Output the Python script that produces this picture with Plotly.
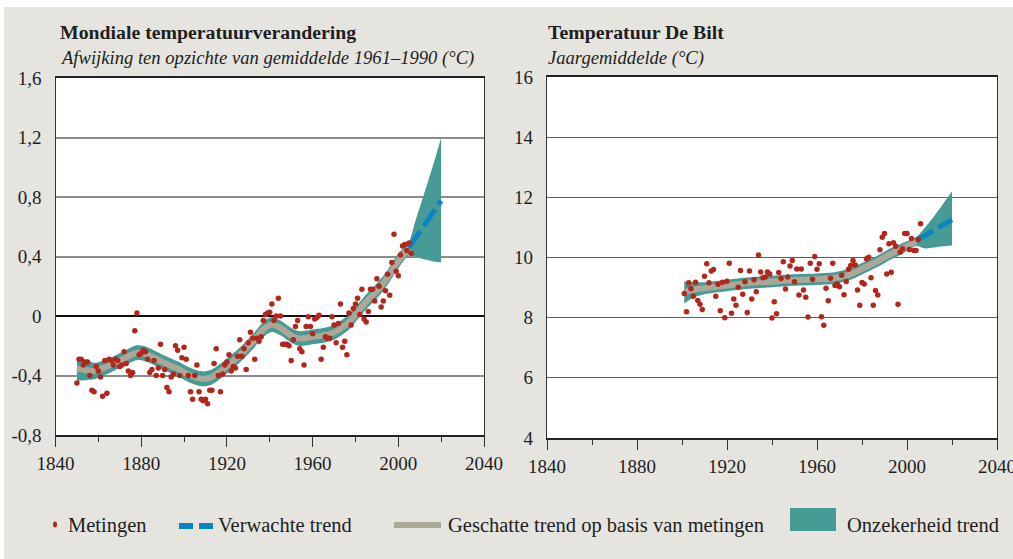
import plotly.graph_objects as go

# ---------------- DATA ----------------
# Global temperature anomaly (deg C, relative to 1961-1990), yearly measurements 1850-2006
global_years = list(range(1850, 2007))
global_values = [
    -0.45, -0.29, -0.29, -0.33, -0.31, -0.31, -0.40, -0.50, -0.51, -0.34,   # 1850-1859
    -0.37, -0.41, -0.54, -0.30, -0.52, -0.29, -0.30, -0.33, -0.29, -0.30,   # 1860-1869
    -0.34, -0.33, -0.24, -0.32, -0.37, -0.40, -0.38, -0.10, 0.02, -0.26,    # 1870-1879
    -0.25, -0.23, -0.24, -0.29, -0.38, -0.36, -0.30, -0.40, -0.35, -0.19,   # 1880-1889
    -0.40, -0.36, -0.48, -0.51, -0.41, -0.39, -0.20, -0.23, -0.40, -0.28,   # 1890-1899
    -0.21, -0.29, -0.40, -0.51, -0.56, -0.40, -0.33, -0.51, -0.56, -0.57,   # 1900-1909
    -0.56, -0.59, -0.50, -0.50, -0.32, -0.22, -0.40, -0.51, -0.39, -0.33,   # 1910-1919
    -0.31, -0.26, -0.37, -0.34, -0.35, -0.27, -0.16, -0.27, -0.22, -0.36,   # 1920-1929
    -0.18, -0.11, -0.15, -0.29, -0.15, -0.17, -0.14, -0.03, 0.01, 0.02,     # 1930-1939
    0.025, 0.08, -0.03, 0.00, 0.12, 0.00, -0.19, -0.19, -0.19, -0.20,       # 1940-1949
    -0.30, -0.16, -0.07, -0.03, -0.22, -0.24, -0.33, -0.07, -0.005, -0.07,  # 1950-1959
    -0.12, -0.02, -0.01, 0.005, -0.29, -0.21, -0.14, -0.15, -0.15, -0.005,  # 1960-1969
    -0.06, -0.18, -0.05, 0.08, -0.21, -0.17, -0.26, 0.02, -0.06, 0.05,      # 1970-1979
    0.08, 0.12, 0.01, 0.18, -0.02, -0.04, 0.03, 0.18, 0.18, 0.10,           # 1980-1989
    0.25, 0.20, 0.06, 0.10, 0.17, 0.28, 0.14, 0.36, 0.55, 0.30,             # 1990-1999
    0.27, 0.41, 0.47, 0.48, 0.44, 0.49, 0.42,                               # 2000-2006
]

# Global estimated trend (smoothed) and its uncertainty band
global_trend_years = [1850, 1855, 1858, 1865, 1872, 1878, 1882, 1890, 1897, 1903,
                      1909, 1913, 1918, 1925, 1932, 1937, 1941, 1945, 1950, 1954,
                      1960, 1965, 1970, 1977, 1980, 1985, 1990, 1993, 1995, 2000, 2005]
global_trend = [-0.355, -0.365, -0.37, -0.335, -0.285, -0.247, -0.255, -0.31, -0.355, -0.40,
                -0.423, -0.41, -0.36, -0.276, -0.175, -0.09, -0.057, -0.08, -0.13, -0.152,
                -0.14, -0.13, -0.11, -0.04, 0.01, 0.095, 0.17, 0.22, 0.26, 0.37, 0.455]
global_band_years = global_trend_years + [2008, 2011, 2014, 2017, 2020]
global_band_low = [-0.435, -0.43, -0.425, -0.385, -0.335, -0.297, -0.305, -0.36, -0.405, -0.45,
                   -0.473, -0.46, -0.41, -0.326, -0.225, -0.14, -0.107, -0.13, -0.18, -0.202,
                   -0.19, -0.18, -0.16, -0.09, -0.04, 0.045, 0.12, 0.17, 0.21, 0.32, 0.41,
                   0.40, 0.385, 0.375, 0.365, 0.36]
global_band_high = [-0.275, -0.30, -0.315, -0.285, -0.235, -0.197, -0.205, -0.26, -0.305, -0.35,
                    -0.373, -0.36, -0.31, -0.226, -0.125, -0.04, -0.007, -0.03, -0.08, -0.102,
                    -0.09, -0.08, -0.06, 0.01, 0.06, 0.145, 0.22, 0.27, 0.31, 0.42, 0.50,
                    0.64, 0.775, 0.91, 1.05, 1.20]
# Global expected trend (projection)
global_proj_years = [2005, 2010, 2015, 2020]
global_proj = [0.46, 0.565, 0.67, 0.775]

# De Bilt annual mean temperature (deg C), 1901-2006
bilt_years = list(range(1901, 2007))
bilt_values = [
    8.80, 8.20, 9.16, 8.96, 8.71, 9.18, 8.57, 8.45, 8.27,          # 1901-1909
    9.38, 9.79, 9.16, 9.55, 9.60, 8.71, 9.11, 8.23, 9.18, 8.00,    # 1910-1919
    9.21, 9.81, 8.15, 8.62, 8.41, 9.01, 9.57, 8.78, 9.19, 8.17,    # 1920-1929
    9.55, 8.62, 9.26, 8.86, 10.08, 9.52, 9.33, 9.35, 9.52, 9.45,   # 1930-1939
    7.99, 8.53, 8.13, 9.50, 9.30, 9.86, 8.95, 9.35, 9.72, 9.90,    # 1940-1949
    9.19, 9.62, 8.75, 9.62, 8.92, 8.68, 8.02, 9.81, 9.28, 10.03,   # 1950-1959
    9.61, 9.79, 8.03, 7.75, 8.98, 8.56, 9.31, 9.81, 9.07, 9.12,    # 1960-1969
    9.03, 9.41, 8.76, 9.20, 9.61, 9.73, 9.90, 9.75, 8.92, 8.41,    # 1970-1979
    9.17, 9.12, 9.96, 10.01, 9.33, 8.41, 8.90, 8.75, 10.26, 10.67, # 1980-1989
    10.80, 9.45, 10.46, 9.51, 10.49, 10.37, 8.45, 10.18, 10.29, 10.80,  # 1990-1999
    10.80, 10.27, 10.63, 10.23, 10.23, 10.60, 11.12,              # 2000-2006
]
bilt_trend_years = [1901, 1905, 1910, 1920, 1930, 1940, 1952, 1960, 1967, 1975,
                    1982, 1987, 1992, 1998, 2004]
bilt_trend = [8.85, 8.93, 8.98, 9.07, 9.15, 9.20, 9.26, 9.28, 9.31, 9.45,
              9.70, 9.88, 10.09, 10.30, 10.53]
bilt_band_years = bilt_trend_years + [2008, 2012, 2016, 2020]
bilt_band_low = [8.47, 8.66, 8.78, 8.88, 8.96, 9.01, 9.07, 9.09, 9.12, 9.26,
                 9.51, 9.69, 9.90, 10.12, 10.38, 10.30, 10.33, 10.37, 10.40]
bilt_band_high = [9.20, 9.18, 9.18, 9.26, 9.34, 9.39, 9.45, 9.47, 9.50, 9.64,
                  9.89, 10.07, 10.28, 10.48, 10.68, 11.0, 11.37, 11.78, 12.20]
bilt_proj_years = [2004, 2012, 2020]
bilt_proj = [10.55, 10.90, 11.26]

# Axis ticks
x_ticks = [1840, 1880, 1920, 1960, 2000, 2040]
x_ticklabels = ["1840", "1880", "1920", "1960", "2000", "2040"]
left_y_ticks = [-0.8, -0.4, 0, 0.4, 0.8, 1.2, 1.6]
left_y_ticklabels = ["-0,8", "-0,4", "0", "0,4", "0,8", "1,2", "1,6"]
right_y_ticks = [4, 6, 8, 10, 12, 14, 16]
right_y_ticklabels = ["4", "6", "8", "10", "12", "14", "16"]

titles = ["Mondiale temperatuurverandering", "Temperatuur De Bilt"]
subtitles = ["Afwijking ten opzichte van gemiddelde 1961–1990 (°C)", "Jaargemiddelde (°C)"]
legend_labels = ["Metingen", "Verwachte trend", "Geschatte trend op basis van metingen",
                 "Onzekerheid trend"]

# ---------------- STYLE ----------------
W, H = 1013, 559
BG = "#e5e4df"
TEAL = "#479b95"
GREY_LINE = "#aca898"
RED = "#b3261c"
BLUE = "#0b84c6"
FONT = "Liberation Serif"
TXT = "#1e1e1e"


def px(x):
    return x / W


def py(y):
    return 1 - y / H


fig = go.Figure()


def add_panel(xa, ya, band_years, low, high, tr_years, tr, pr_years, pr, yrs, vals):
    fig.add_trace(go.Scatter(x=band_years, y=low, xaxis=xa, yaxis=ya, mode="lines",
                             line=dict(width=0, color=TEAL, shape="spline", smoothing=0.8),
                             hoverinfo="skip", showlegend=False))
    fig.add_trace(go.Scatter(x=band_years, y=high, xaxis=xa, yaxis=ya, mode="lines",
                             line=dict(width=0, color=TEAL, shape="spline", smoothing=0.8),
                             fill="tonexty", fillcolor=TEAL,
                             hoverinfo="skip", showlegend=False))
    fig.add_trace(go.Scatter(x=tr_years, y=tr, xaxis=xa, yaxis=ya, mode="lines",
                             line=dict(width=6, color=GREY_LINE, shape="spline", smoothing=0.8),
                             hoverinfo="skip", showlegend=False))
    fig.add_trace(go.Scatter(x=pr_years, y=pr, xaxis=xa, yaxis=ya, mode="lines",
                             line=dict(width=5, color=BLUE, dash="20px,6px"),
                             hoverinfo="skip", showlegend=False))
    fig.add_trace(go.Scatter(x=yrs, y=vals, xaxis=xa, yaxis=ya, mode="markers",
                             marker=dict(size=5.5, color=RED, line=dict(width=0)),
                             showlegend=False))


add_panel("x", "y", global_band_years, global_band_low, global_band_high,
          global_trend_years, global_trend, global_proj_years, global_proj,
          global_years, global_values)
add_panel("x2", "y2", bilt_band_years, bilt_band_low, bilt_band_high,
          bilt_trend_years, bilt_trend, bilt_proj_years, bilt_proj,
          bilt_years, bilt_values)

xaxis_common = dict(
    range=[1840, 2040], tickmode="array", tickvals=x_ticks, ticktext=x_ticklabels,
    ticks="outside", ticklen=10, tickwidth=1, tickcolor="#333",
    minor=dict(tickmode="linear", tick0=1840, dtick=20, ticks="outside", ticklen=5,
               tickwidth=1, tickcolor="#333", showgrid=False),
    showgrid=False, zeroline=False, showline=True, linecolor="#222", linewidth=1.5,
    mirror=True, tickfont=dict(family=FONT, size=19, color=TXT), fixedrange=True,
    automargin=False, ticklabeloverflow="allow",
)
yaxis_common = dict(
    tickmode="array", ticks="", showgrid=True, showline=True, linecolor="#333",
    linewidth=1.3, mirror=True, tickfont=dict(family=FONT, size=19, color=TXT),
    ticklabelstandoff=9, fixedrange=True, automargin=False,
)

fig.update_layout(
    width=W, height=H, margin=dict(l=0, r=0, t=0, b=0, autoexpand=False),
    paper_bgcolor=BG, plot_bgcolor="white", showlegend=False,
    xaxis=dict(domain=[px(55.5), px(484)], anchor="y", **xaxis_common),
    yaxis=dict(domain=[py(435), py(78)], anchor="x", range=[-0.8, 1.6],
               tickvals=left_y_ticks, ticktext=left_y_ticklabels,
               gridcolor="#8c8c8c", gridwidth=1.5,
               zeroline=True, zerolinecolor="#111", zerolinewidth=1.5, **yaxis_common),
    xaxis2=dict(domain=[px(547), px(997)], anchor="y2", **xaxis_common),
    yaxis2=dict(domain=[py(438), py(77)], anchor="x2", range=[4, 16],
                tickvals=right_y_ticks, ticktext=right_y_ticklabels,
                gridcolor="#606060", gridwidth=1.3, zeroline=False, **yaxis_common),
)

shapes = []
# white strip at top / left edge of the page
shapes.append(dict(type="rect", xref="paper", yref="paper", x0=0, x1=1, y0=py(7), y1=1,
                   fillcolor="white", line=dict(width=0), layer="below"))
shapes.append(dict(type="rect", xref="paper", yref="paper", x0=0, x1=px(4), y0=0, y1=1,
                   fillcolor="white", line=dict(width=0), layer="below"))
# legend symbols
shapes.append(dict(type="circle", xref="paper", yref="paper", x0=px(53), x1=px(57),
                   y0=py(527.5), y1=py(521.5), fillcolor=RED, line=dict(width=0)))
shapes.append(dict(type="rect", xref="paper", yref="paper", x0=px(179), x1=px(193),
                   y0=py(529), y1=py(523), fillcolor=BLUE, line=dict(width=0)))
shapes.append(dict(type="rect", xref="paper", yref="paper", x0=px(199), x1=px(213),
                   y0=py(529), y1=py(523), fillcolor=BLUE, line=dict(width=0)))
shapes.append(dict(type="rect", xref="paper", yref="paper", x0=px(394), x1=px(441),
                   y0=py(528), y1=py(522), fillcolor=GREY_LINE, line=dict(width=0)))
shapes.append(dict(type="rect", xref="paper", yref="paper", x0=px(790), x1=px(836),
                   y0=py(531), y1=py(508), fillcolor=TEAL, line=dict(width=0)))
fig.update_layout(shapes=shapes)

annotations = []
for i, tx in enumerate([58, 546]):
    annotations.append(dict(text="<b>" + titles[i] + "</b>", x=px(tx), y=py(32),
                            xref="paper", yref="paper", xanchor="left", yanchor="middle",
                            showarrow=False, font=dict(family=FONT, size=19.8, color=TXT)))
    annotations.append(dict(text="<i>" + subtitles[i] + "</i>", x=px(tx), y=py(58),
                            xref="paper", yref="paper", xanchor="left", yanchor="middle",
                            showarrow=False, font=dict(family=FONT, size=18.6, color=TXT)))
for lbl, lx in zip(legend_labels, [66, 216, 446, 845]):
    annotations.append(dict(text=lbl, x=px(lx), y=py(525), xref="paper", yref="paper",
                            xanchor="left", yanchor="middle", showarrow=False,
                            font=dict(family=FONT, size=20.5, color=TXT)))
fig.update_layout(annotations=annotations)

fig.write_html(
    "out.html",
    config={"displayModeBar": False},
    post_script="document.body.style.margin='0';document.body.style.overflow='hidden';",
)
